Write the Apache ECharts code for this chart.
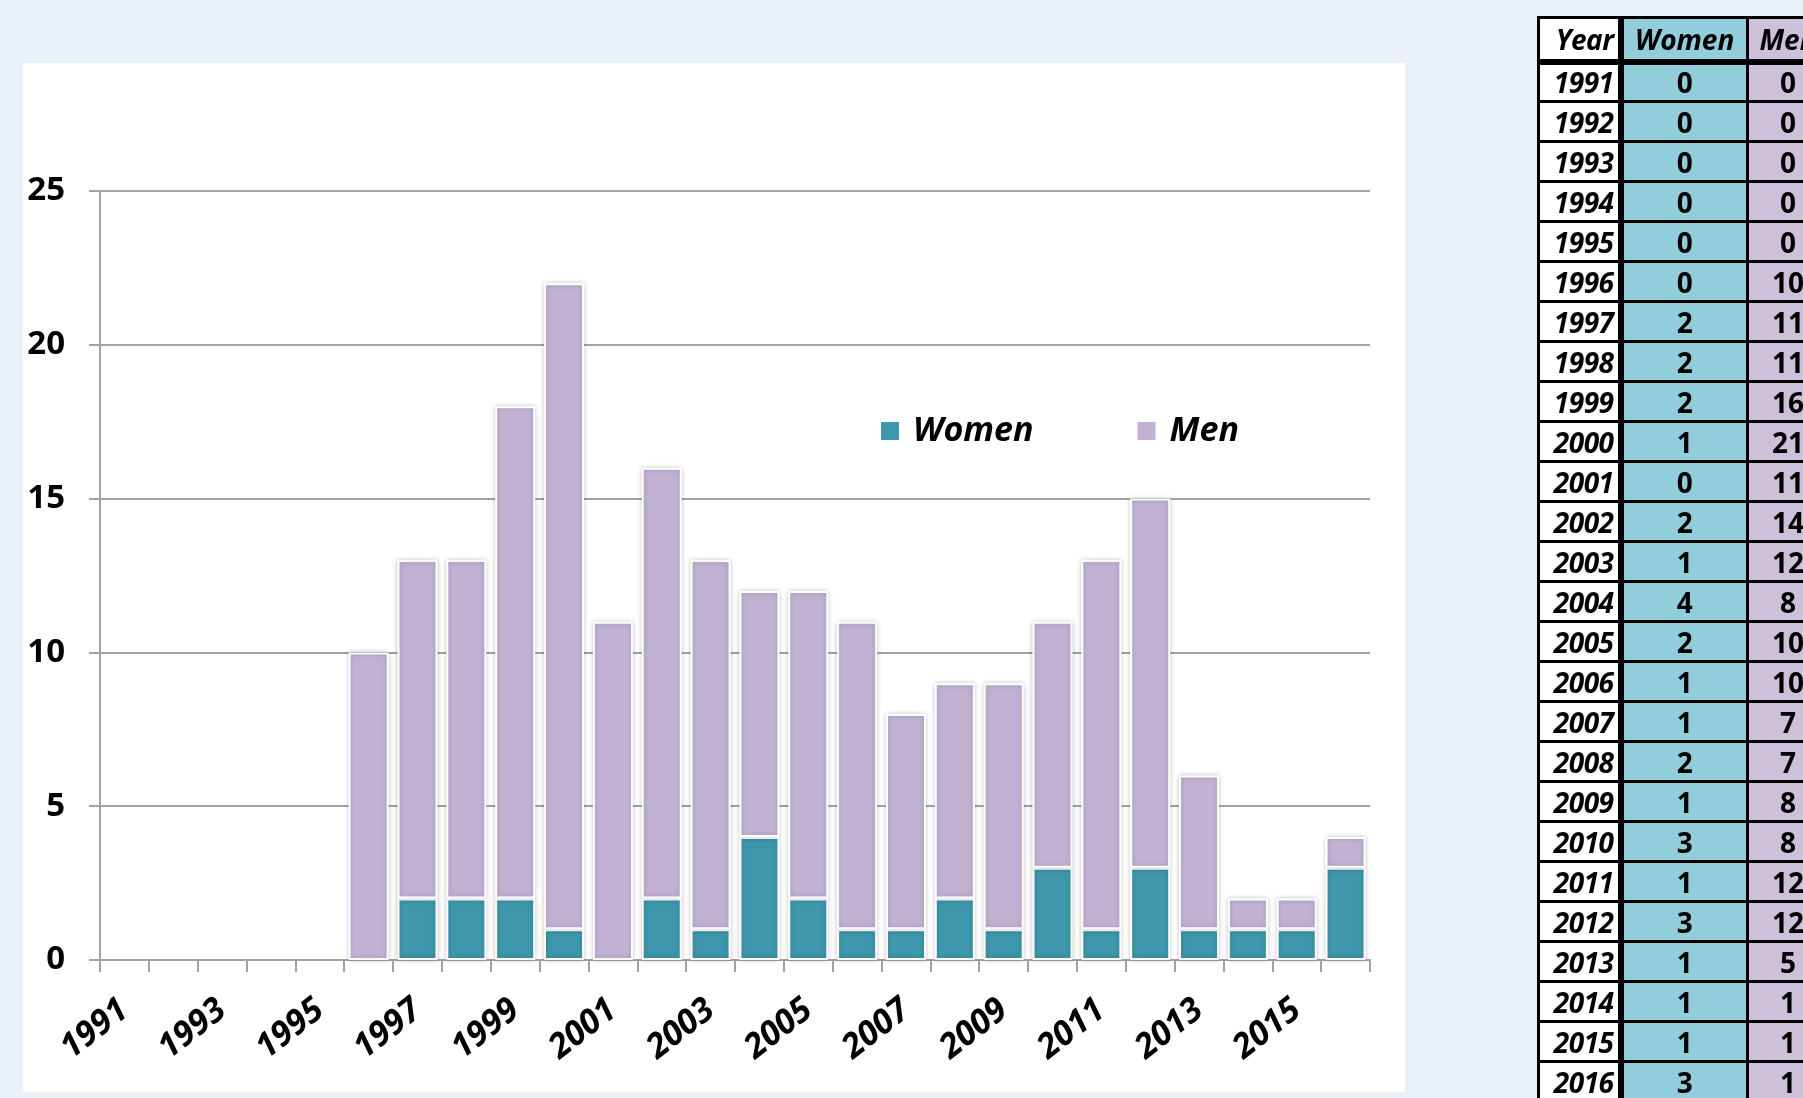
<!DOCTYPE html>
<html>
<head>
<meta charset="utf-8">
<title>Women / Men by year</title>
<script src="https://cdn.jsdelivr.net/npm/echarts@6/dist/echarts.min.js"></script>
<style>
  html, body { margin: 0; padding: 0; background: #EAF1F9; overflow: hidden; }
  #chart { position: absolute; left: 0; top: 0; width: 1803px; height: 1098px; }
  #table { position: absolute; left: 1537px; top: 16px; width: 290px; border-collapse: collapse; font-family: 'Open Sans', sans-serif; font-weight: bold; font-size: 28px; color: #000; table-layout: fixed; }
  #table tr { height: 40px; }
  #table td { border: 3px solid #000; padding: 0; text-align: center; line-height: 30px; white-space: nowrap; overflow: hidden; }
  #table td.year { background: #fff; font-style: italic; text-align: right; padding-right: 4px; border-right-width: 6px; letter-spacing: -0.5px; }
  #table td.w { background: #92CDDC; }
  #table td.m { background: #CCC0DA; }
  #table tr.head { height: 44px; }
  #table tr.head td { font-style: italic; border-bottom-width: 6px; }
</style>
</head>
<body>
<div id="chart"></div>
<table id="table">
  <colgroup><col style="width:82px"><col style="width:127px"><col style="width:81px"></colgroup>
  <tbody id="tbody"></tbody>
</table>
<script>
  const years = ['1991', '1992', '1993', '1994', '1995', '1996', '1997', '1998', '1999', '2000',
    '2001', '2002', '2003', '2004', '2005', '2006', '2007', '2008', '2009', '2010',
    '2011', '2012', '2013', '2014', '2015', '2016']
  const women = [0, 0, 0, 0, 0, 0, 2, 2, 2, 1, 0, 2, 1, 4, 2, 1, 1, 2, 1, 3, 1, 3, 1, 1, 1, 3]
  const men = [0, 0, 0, 0, 0, 10, 11, 11, 16, 21, 11, 14, 12, 8, 10, 10, 7, 7, 8, 8, 12, 12, 5, 1, 1, 1]
  const yTicks = [0, 5, 10, 15, 20, 25]

  const FONT = '"Open Sans", sans-serif'
  const WOMEN_COLOR = '#3E97AC'
  const MEN_COLOR = '#C1B2D4'
  const GRID_COLOR = '#A2A2A2'

  // side table
  let html = '<tr class="head"><td class="year">Year</td><td class="w">Women</td><td class="m">Men</td></tr>'
  years.forEach((y, i) => {
    html += '<tr><td class="year">' + y + '</td><td class="w">' + women[i] + '</td><td class="m">' + men[i] + '</td></tr>'
  })
  document.getElementById('tbody').innerHTML = html

  const chart = echarts.init(document.getElementById('chart'))

  const barStyle = (color) => ({
    color: color,
    borderColor: '#fff',
    borderWidth: 2,
    shadowBlur: 5,
    shadowColor: 'rgba(0, 0, 0, 0.22)'
  })
  // empty years draw no bar
  const noZero = (arr) => arr.map(v => (v === 0 ? '-' : v))

  chart.setOption({
    backgroundColor: 'transparent',
    animation: false,
    graphic: [
      {
        type: 'rect',
        z: -10,
        shape: { x: 23, y: 63, width: 1382, height: 1029 },
        style: { fill: '#fff' }
      }
    ],
    legend: {
      left: 881,
      top: 414,
      itemWidth: 18,
      itemHeight: 18,
      itemGap: 104,
      padding: 0,
      icon: 'rect',
      data: ['Women', 'Men'],
      itemStyle: { borderWidth: 0, shadowBlur: 0 },
      textStyle: {
        fontFamily: FONT,
        fontSize: 34,
        fontWeight: 'bold',
        fontStyle: 'italic',
        color: '#000',
        padding: [6, 0, 0, 9]
      }
    },
    grid: {
      left: 100,
      top: 191,
      width: 1270,
      height: 769,
      containLabel: false
    },
    xAxis: {
      type: 'category',
      data: years,
      axisLine: { lineStyle: { color: GRID_COLOR, width: 2 } },
      axisTick: { show: true, interval: 0, length: 12, lineStyle: { color: GRID_COLOR, width: 2 } },
      axisLabel: {
        interval: 1,
        rotate: 38,
        margin: 46,
        color: '#000',
        fontFamily: FONT,
        fontSize: 34,
        fontWeight: 'bold',
        fontStyle: 'italic'
      }
    },
    yAxis: {
      type: 'value',
      min: yTicks[0],
      max: yTicks[yTicks.length - 1],
      interval: 5,
      axisLine: { show: true, lineStyle: { color: GRID_COLOR, width: 2 } },
      axisTick: { show: true, length: 11, lineStyle: { color: GRID_COLOR, width: 2 } },
      splitLine: { lineStyle: { color: GRID_COLOR, width: 2 } },
      axisLabel: {
        margin: 35,
        color: '#000',
        fontFamily: FONT,
        fontSize: 33,
        fontWeight: 'bold'
      }
    },
    series: [
      {
        name: 'Women',
        type: 'bar',
        stack: 'total',
        barCategoryGap: '18%',
        itemStyle: barStyle(WOMEN_COLOR),
        data: noZero(women)
      },
      {
        name: 'Men',
        type: 'bar',
        stack: 'total',
        barCategoryGap: '18%',
        itemStyle: barStyle(MEN_COLOR),
        data: noZero(men)
      }
    ]
  })
</script>
</body>
</html>
